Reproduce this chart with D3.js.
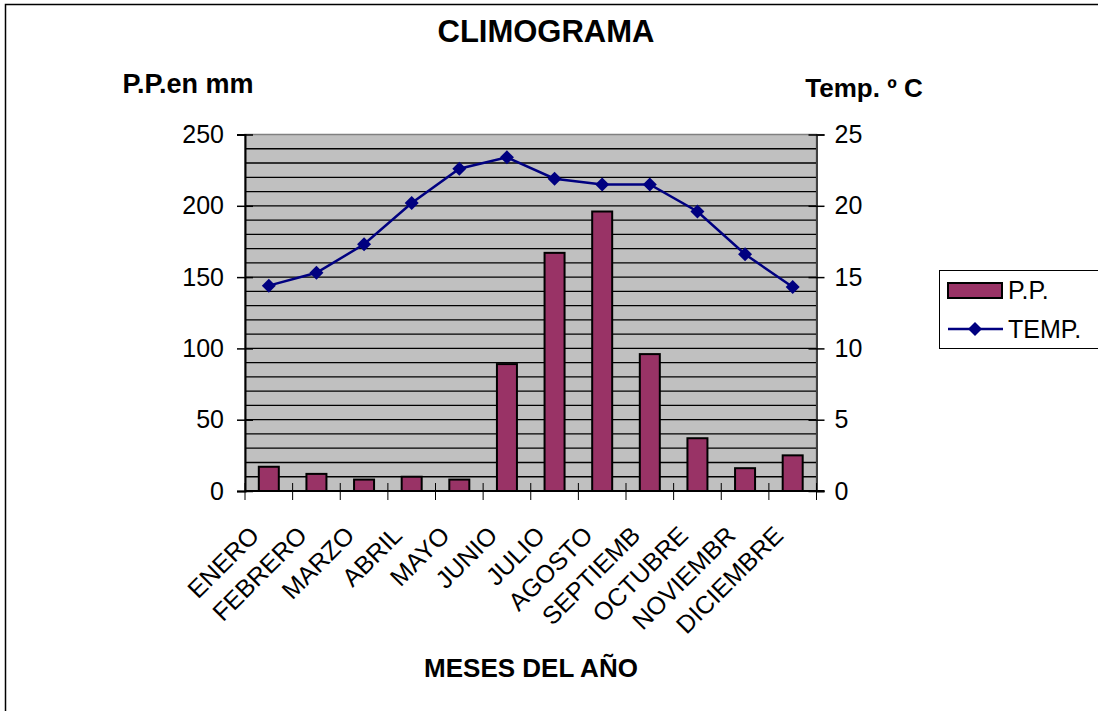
<!DOCTYPE html>
<html>
<head>
<meta charset="utf-8">
<script src="https://cdn.jsdelivr.net/npm/d3@7"></script>
<style>
  body { margin: 0; background: #fff; }
  svg { display: block; font-family: Arial, "Liberation Sans", sans-serif; }
</style>
</head>
<body>
<div id="chart"></div>
<script>
// --- data
var months = ['ENERO', 'FEBRERO', 'MARZO', 'ABRIL', 'MAYO', 'JUNIO', 'JULIO',
  'AGOSTO', 'SEPTIEMB', 'OCTUBRE', 'NOVIEMBR', 'DICIEMBRE'];
var precip = [17, 12, 8, 10, 8, 89, 167, 196, 96, 37, 16, 25];
var temp = [14.4, 15.3, 17.3, 20.2, 22.6, 23.4, 21.9, 21.5, 21.5, 19.6, 16.6, 14.3];
var ppTicks = [0, 50, 100, 150, 200, 250];
var tempTicks = [0, 5, 10, 15, 20, 25];

var width = 1098;
var height = 711;
var plot = { left: 245, right: 816.5, top: 134.5, bottom: 491 };

var svg = d3.select('#chart')
  .append('svg')
  .attr('width', width)
  .attr('height', height);

// --- outer chart frame (runs off the right / bottom edge like the original)
svg.append('rect')
  .attr('x', 5.5).attr('y', 4.5)
  .attr('width', 1110).attr('height', 720)
  .attr('fill', '#fff')
  .attr('stroke', '#000')
  .attr('stroke-width', 1.5);

var x = d3.scaleBand().domain(months).range([plot.left, plot.right]).padding(0);
var yPP = d3.scaleLinear().domain([0, 250]).range([plot.bottom, plot.top]);
var yT = d3.scaleLinear().domain([0, 25]).range([plot.bottom, plot.top]);

// --- plot area
svg.append('rect')
  .attr('x', plot.left).attr('y', plot.top)
  .attr('width', plot.right - plot.left)
  .attr('height', plot.bottom - plot.top)
  .attr('fill', '#c0c0c0')
  .attr('stroke', '#808080')
  .attr('stroke-width', 1.5);

// gridlines every 10 mm
svg.append('g')
  .selectAll('line')
  .data(d3.range(10, 250, 10))
  .enter()
  .append('line')
  .attr('x1', plot.left).attr('x2', plot.right)
  .attr('y1', function(d) { return yPP(d); })
  .attr('y2', function(d) { return yPP(d); })
  .attr('stroke', '#000')
  .attr('stroke-width', 1.3);

// --- bars
var barW = x.bandwidth() * 0.42;
svg.append('g')
  .selectAll('rect')
  .data(precip)
  .enter()
  .append('rect')
  .attr('x', function(d, i) { return x(months[i]) + (x.bandwidth() - barW) / 2; })
  .attr('y', function(d) { return yPP(d); })
  .attr('width', barW)
  .attr('height', function(d) { return plot.bottom - yPP(d); })
  .attr('fill', '#993366')
  .attr('stroke', '#000')
  .attr('stroke-width', 2);

// --- axes
var leftAxis = svg.append('g')
  .attr('transform', 'translate(' + plot.left + ',0)')
  .call(d3.axisLeft(yPP).tickValues(ppTicks).tickSize(8).tickPadding(13));
leftAxis.select('.domain').attr('stroke', '#000').attr('stroke-width', 2);
leftAxis.selectAll('.tick line').attr('x2', -8).attr('x1', 8).attr('stroke-width', 1.5);

var rightAxis = svg.append('g')
  .attr('transform', 'translate(' + plot.right + ',0)')
  .call(d3.axisRight(yT).tickValues(tempTicks).tickSize(8).tickPadding(10));
rightAxis.select('.domain').attr('stroke', '#404040').attr('stroke-width', 2);
rightAxis.selectAll('.tick line').attr('x1', -8).attr('x2', 8).attr('stroke-width', 1.5);

[leftAxis, rightAxis].forEach(function(a) {
  a.selectAll('.tick text')
    .attr('font-size', 25)
    .attr('font-family', 'Arial, "Liberation Sans", sans-serif')
    .attr('fill', '#000');
});

// bottom axis: ticks on category boundaries, labels turned 45 degrees
svg.append('line')
  .attr('x1', plot.left).attr('x2', plot.right + 8)
  .attr('y1', plot.bottom).attr('y2', plot.bottom)
  .attr('stroke', '#000').attr('stroke-width', 2);

var bounds = months.map(function(m) { return x(m); }).concat([plot.right]);
svg.append('g')
  .selectAll('line')
  .data(bounds)
  .enter()
  .append('line')
  .attr('x1', function(d) { return d; })
  .attr('x2', function(d) { return d; })
  .attr('y1', plot.bottom - 8)
  .attr('y2', plot.bottom + 9)
  .attr('stroke', '#000')
  .attr('stroke-width', 1);

svg.append('g')
  .selectAll('text')
  .data(months)
  .enter()
  .append('text')
  .attr('transform', function(d) {
    var cx = x(d) + x.bandwidth() / 2 - 8;
    return 'translate(' + cx + ',537) rotate(-45)';
  })
  .attr('text-anchor', 'end')
  .attr('font-size', 25)
  .text(function(d) { return d; });

// --- temperature line
var line = d3.line()
  .x(function(d, i) { return x(months[i]) + x.bandwidth() / 2; })
  .y(function(d) { return yT(d); });

svg.append('path')
  .datum(temp)
  .attr('d', line)
  .attr('fill', 'none')
  .attr('stroke', '#000080')
  .attr('stroke-width', 2.5);

var diamond = d3.symbol().type(d3.symbolSquare).size(98);
svg.append('g')
  .selectAll('path')
  .data(temp)
  .enter()
  .append('path')
  .attr('d', diamond)
  .attr('transform', function(d, i) {
    return 'translate(' + (x(months[i]) + x.bandwidth() / 2) + ',' + yT(d) + ') rotate(45)';
  })
  .attr('fill', '#000080');

// --- titles
svg.append('text')
  .attr('x', 546).attr('y', 42)
  .attr('text-anchor', 'middle')
  .attr('font-size', 31).attr('font-weight', 'bold')
  .text('CLIMOGRAMA');

svg.append('text')
  .attr('x', 188).attr('y', 93)
  .attr('text-anchor', 'middle')
  .attr('font-size', 27).attr('font-weight', 'bold')
  .text('P.P.en mm');

svg.append('text')
  .attr('x', 864).attr('y', 97)
  .attr('text-anchor', 'middle')
  .attr('font-size', 26).attr('font-weight', 'bold')
  .text('Temp. º C');

svg.append('text')
  .attr('x', 531).attr('y', 677)
  .attr('text-anchor', 'middle')
  .attr('font-size', 26).attr('font-weight', 'bold')
  .text('MESES DEL AÑO');

// --- legend
var legend = svg.append('g');
legend.append('rect')
  .attr('x', 939.5).attr('y', 270.5)
  .attr('width', 170).attr('height', 78)
  .attr('fill', '#fff')
  .attr('stroke', '#000')
  .attr('stroke-width', 1);

legend.append('rect')
  .attr('x', 948).attr('y', 283)
  .attr('width', 54).attr('height', 15)
  .attr('fill', '#993366')
  .attr('stroke', '#000')
  .attr('stroke-width', 2);
legend.append('text')
  .attr('x', 1008).attr('y', 299)
  .attr('font-size', 25)
  .text('P.P.');

legend.append('line')
  .attr('x1', 948).attr('x2', 1003)
  .attr('y1', 329).attr('y2', 329)
  .attr('stroke', '#000080')
  .attr('stroke-width', 2.5);
legend.append('path')
  .attr('d', diamond)
  .attr('transform', 'translate(975,329) rotate(45)')
  .attr('fill', '#000080');
legend.append('text')
  .attr('x', 1008).attr('y', 338)
  .attr('font-size', 25)
  .text('TEMP.');
</script>
</body>
</html>
